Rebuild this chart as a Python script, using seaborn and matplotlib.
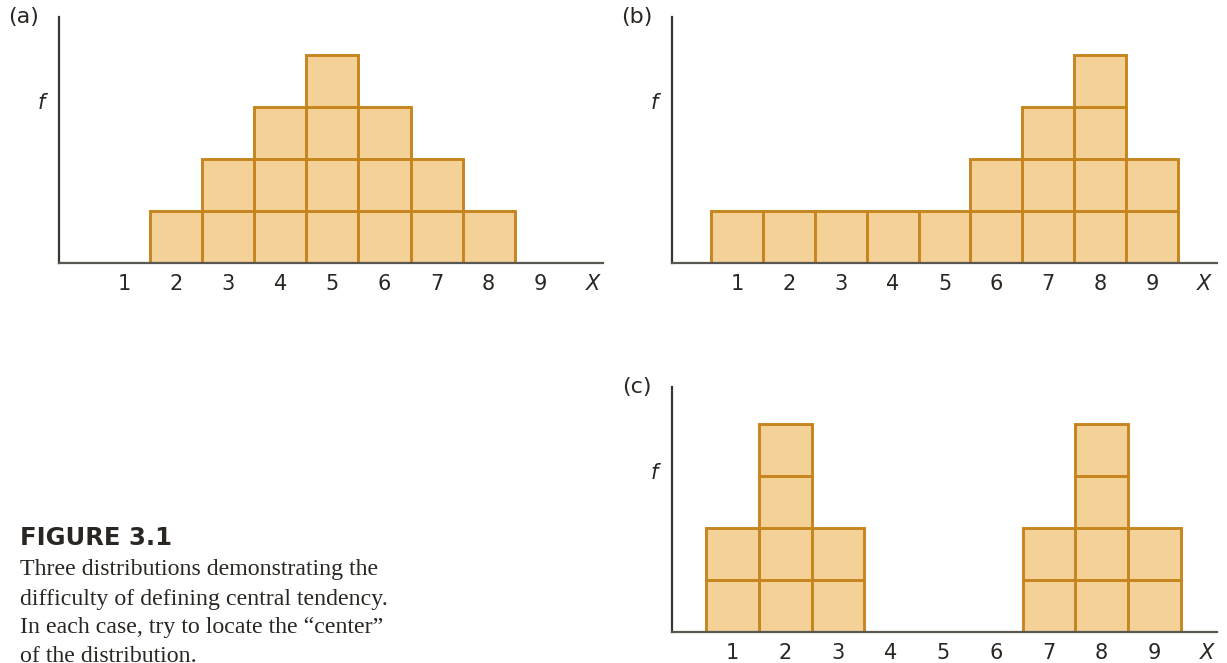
import matplotlib
matplotlib.use("Agg")
import matplotlib.pyplot as plt
import matplotlib.transforms as mtransforms
import seaborn as sns
import pandas as pd

sns.set_theme(style="white")

# ---- data ----
x_values = [1, 2, 3, 4, 5, 6, 7, 8, 9]
freq_a = [0, 1, 2, 3, 4, 3, 2, 1, 0]
freq_b = [1, 1, 1, 1, 1, 2, 3, 4, 2]
freq_c = [2, 4, 2, 0, 0, 0, 2, 4, 2]
tick_labels = ["1", "2", "3", "4", "5", "6", "7", "8", "9"]
panel_labels = ["(a)", "(b)", "(c)"]
caption_title = "FIGURE 3.1"
caption_lines = [
    "Three distributions demonstrating the",
    "difficulty of defining central tendency.",
    "In each case, try to locate the \u201ccenter\u201d",
    "of the distribution.",
]

FILL = "#F3D197"
EDGE = "#C6851E"
AXC = "#3a3632"
BASEC = "#5a5750"
TXT = "#2a2622"
TICKFONT = "DejaVu Sans"


def long_form(freqs):
    rows = []
    for xv, f in zip(x_values, freqs):
        for k in range(1, f + 1):
            rows.append({"X": xv, "level": k})
    return pd.DataFrame(rows)


fig = plt.figure(figsize=(12.27, 6.63), dpi=100)

axes_rects = [
    (59 / 1227, 400 / 663, 544 / 1227, 246 / 663),
    (672 / 1227, 400 / 663, 545 / 1227, 246 / 663),
    (672 / 1227, 31 / 663, 545 / 1227, 245 / 663),
]
xlims = [(-0.247, 10.195), (-0.25, 10.25), (-0.152, 10.19)]
ylims = [4.73, 4.73, 4.71]
label_shift = [-3, -1, 0]

for rect, freqs, lab, xl, yt, sh in zip(axes_rects, [freq_a, freq_b, freq_c],
                                         panel_labels, xlims, ylims, label_shift):
    ax = fig.add_axes(rect)
    df = long_form(freqs)
    nlev = df["level"].max()
    sns.histplot(
        data=df, x="X", hue="level", multiple="stack", discrete=True, shrink=1,
        palette=[FILL] * nlev, edgecolor=EDGE, linewidth=2.1, alpha=1,
        legend=False, ax=ax,
    )
    for p in ax.patches:
        if p.get_height() == 0:
            p.set_visible(False)
    ax.set_xlim(*xl)
    ax.set_ylim(0, yt)
    ax.set_xlabel("")
    ax.set_ylabel("")
    ax.set_yticks([])
    ax.set_xticks(x_values + [10])
    ax.set_xticklabels(tick_labels + ["X"], fontsize=15, color=TXT, family=TICKFONT)
    labs = ax.get_xticklabels()
    labs[-1].set_style("italic")
    off = mtransforms.ScaledTranslation(sh / 100, 0, fig.dpi_scale_trans)
    for t in labs[:-1]:
        t.set_transform(t.get_transform() + off)
    ax.tick_params(axis="x", length=0, pad=8)
    for s in ["top", "right"]:
        ax.spines[s].set_visible(False)
    ax.spines["left"].set_color(AXC)
    ax.spines["left"].set_linewidth(1.6)
    ax.spines["bottom"].set_color(BASEC)
    ax.spines["bottom"].set_linewidth(1.6)
    ax.set_facecolor("none")
    ax.text(-0.026, 0.65, "f", transform=ax.transAxes, fontsize=15, style="italic",
            ha="right", va="center", color=TXT, family=TICKFONT)
    ax.text(-0.065, 1.0, lab, transform=ax.transAxes, fontsize=16,
            ha="center", va="center", color=TXT, family=TICKFONT)

fig.text(20 / 1227, 1 - 538 / 663, caption_title, fontsize=17.5, fontweight="bold",
         family="DejaVu Sans", color=TXT, va="center", ha="left")
y0 = 570
for i, line in enumerate(caption_lines):
    fig.text(20 / 1227, 1 - (y0 + 29 * i) / 663, line, fontsize=17.2,
             family="Liberation Serif", color=TXT, va="center", ha="left")

fig.savefig("out.png", dpi=100)
